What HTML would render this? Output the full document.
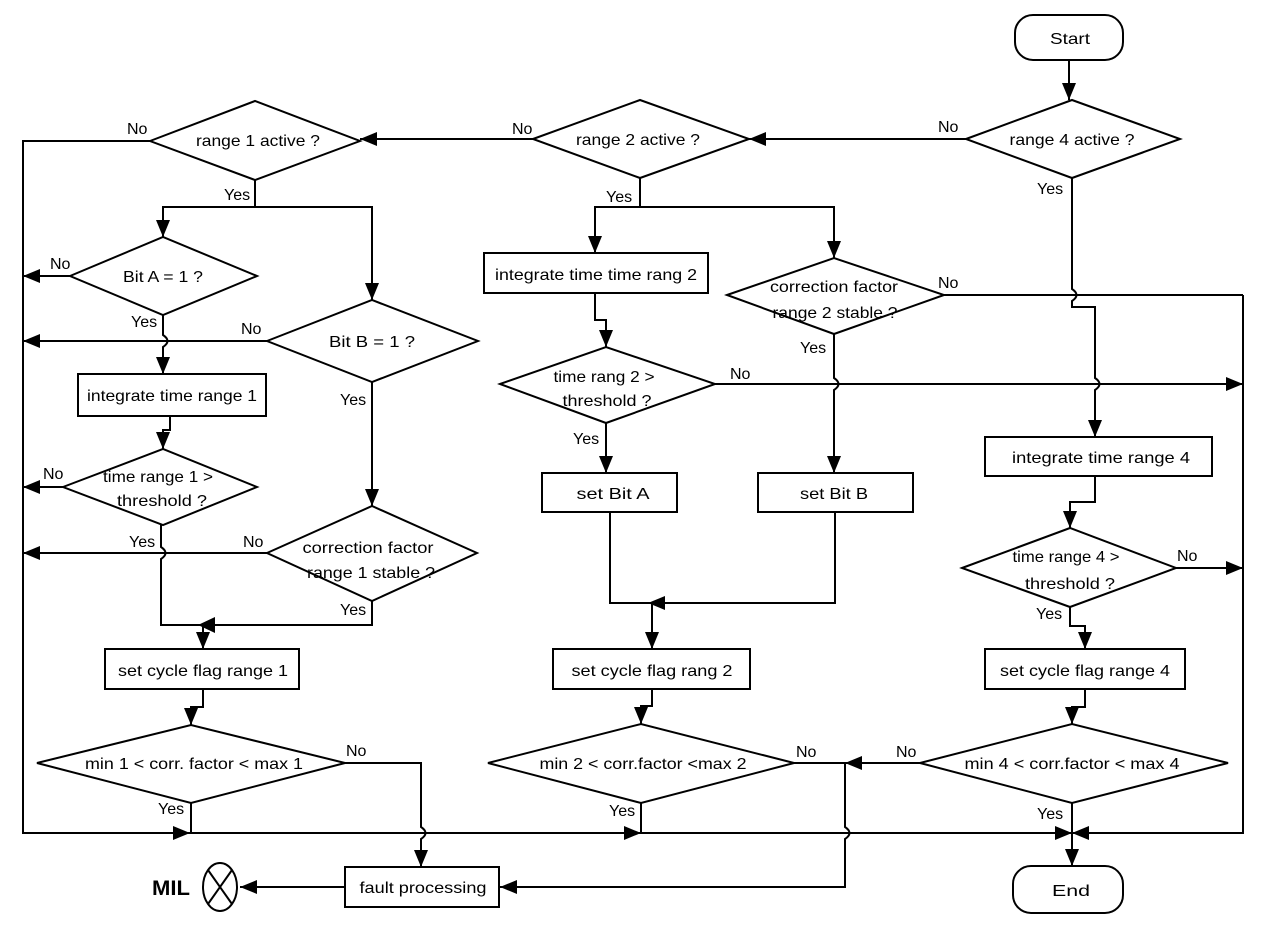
<!DOCTYPE html>
<html><head><meta charset="utf-8"><style>
html,body{margin:0;padding:0;background:#fff;}
svg{display:block;font-family:"Liberation Sans",Arial,sans-serif;}
.l{fill:none;stroke:#000;stroke-width:2;}
.s{fill:#fff;stroke:#000;stroke-width:2;}
.t{font-size:16px;fill:#000;text-anchor:middle;}
.y{font-size:16px;fill:#000;}
</style></head><body>
<svg width="1280" height="940" viewBox="0 0 1280 940" xmlns="http://www.w3.org/2000/svg">
<defs>
<marker id="a" markerUnits="userSpaceOnUse" markerWidth="18" markerHeight="14" refX="17" refY="7" orient="auto">
<path d="M0,0 L17,7 L0,14 z" fill="#000"/></marker>
</defs>
<rect width="1280" height="940" fill="#fff"/>

<!-- connectors -->
<g class="l">
<path d="M1069,60 V100" marker-end="url(#a)"/>
<path d="M966,139 H749" marker-end="url(#a)"/>
<path d="M533,139 H360" marker-end="url(#a)"/>
<path d="M150,141 H23 V833 H190" marker-end="url(#a)"/>
<path d="M190,833 H641" marker-end="url(#a)"/>
<path d="M641,833 H1072" marker-end="url(#a)"/>
<path d="M1243,295 V833 H1072" marker-end="url(#a)"/>
<path d="M191,803 V833"/>
<path d="M641,803 V833"/>
<path d="M1072,803 V866" marker-end="url(#a)"/>
<path d="M255,180 V207"/>
<path d="M255,207 H163 V237" marker-end="url(#a)"/>
<path d="M255,207 H372 V300" marker-end="url(#a)"/>
<path d="M70,276 H23" marker-end="url(#a)"/>
<path d="M267,341 H23" marker-end="url(#a)"/>
<path d="M63,487 H23" marker-end="url(#a)"/>
<path d="M267,553 H23" marker-end="url(#a)"/>
<path d="M163,315 V335 Q172,341 163,347 V374" marker-end="url(#a)"/>
<path d="M170,416 V430 H163 V449" marker-end="url(#a)"/>
<path d="M161,525 V547 Q170,553 161,559 V625 H372 V601"/>
<path d="M203,625 V649" marker-end="url(#a)"/>
<path d="M372,382 V506" marker-end="url(#a)"/>
<path d="M203,689 V707 H191 V725" marker-end="url(#a)"/>
<path d="M345,763 H421 V827 Q430,833 421,839 V867" marker-end="url(#a)"/>
<path d="M345,887 H240" marker-end="url(#a)"/>
<path d="M640,178 V207"/>
<path d="M640,207 H595 V253" marker-end="url(#a)"/>
<path d="M640,207 H834 V258" marker-end="url(#a)"/>
<path d="M944,295 H1243"/>
<path d="M1072,178 V289 Q1081,295 1072,301 V307 H1095 V378 Q1104,384 1095,390 V437" marker-end="url(#a)"/>
<path d="M715,384 H1243" marker-end="url(#a)"/>
<path d="M834,334 V378 Q843,384 834,390 V473" marker-end="url(#a)"/>
<path d="M595,293 V320 H606 V347" marker-end="url(#a)"/>
<path d="M606,423 V473" marker-end="url(#a)"/>
<path d="M610,512 V603 H835 V512"/>
<path d="M652,603 V649" marker-end="url(#a)"/>
<path d="M652,689 V706 H641 V724" marker-end="url(#a)"/>
<path d="M794,763 H845"/>
<path d="M920,763 H845" marker-end="url(#a)"/>
<path d="M845,763 V827 Q854,833 845,839 V887 H500" marker-end="url(#a)"/>
<path d="M1095,476 V502 H1070 V528" marker-end="url(#a)"/>
<path d="M1176,568 H1243" marker-end="url(#a)"/>
<path d="M1070,607 V626 H1085 V649" marker-end="url(#a)"/>
<path d="M1085,689 V707 H1072 V724" marker-end="url(#a)"/>
</g>
<path d="M198,625 L215,617 L215,633 z" fill="#000"/>
<path d="M648,603 L665,596 L665,610 z" fill="#000"/>

<!-- shapes -->
<g class="s">
<rect x="1015" y="15" width="108" height="45" rx="18"/>
<rect x="1013" y="866" width="110" height="47" rx="18"/>
<polygon points="966,139 1072,100 1180,139 1072,178"/>
<polygon points="533,139 640,100 749,139 640,178"/>
<polygon points="150,141 255,101 360,141 255,180"/>
<polygon points="70,276 163,237 257,276 163,315"/>
<polygon points="267,341 372,300 478,341 372,382"/>
<rect x="78" y="374" width="188" height="42"/>
<polygon points="63,487 163,449 257,487 163,525"/>
<polygon points="267,553 372,506 477,553 372,601"/>
<rect x="105" y="649" width="194" height="40"/>
<polygon points="37,763 191,725 345,763 191,803"/>
<rect x="345" y="867" width="154" height="40"/>
<rect x="484" y="253" width="224" height="40"/>
<polygon points="727,295 834,258 944,295 834,334"/>
<polygon points="500,384 606,347 715,384 606,423"/>
<rect x="542" y="473" width="135" height="39"/>
<rect x="758" y="473" width="155" height="39"/>
<rect x="553" y="649" width="197" height="40"/>
<polygon points="488,763 641,724 794,763 641,803"/>
<rect x="985" y="437" width="227" height="39"/>
<polygon points="962,568 1070,528 1176,568 1070,607"/>
<rect x="985" y="649" width="200" height="40"/>
<polygon points="920,763 1072,724 1228,763 1072,803"/>
<ellipse cx="220" cy="887" rx="17" ry="24"/>
</g>
<path d="M208,870 L232,904 M232,870 L208,904" stroke="#000" stroke-width="2"/>

<!-- node texts -->
<g class="t">
<text x="1070" y="44" textLength="40" lengthAdjust="spacingAndGlyphs">Start</text>
<text x="1071" y="896" textLength="38" lengthAdjust="spacingAndGlyphs">End</text>
<text x="1072" y="145" textLength="125" lengthAdjust="spacingAndGlyphs">range 4 active ?</text>
<text x="638" y="145" textLength="124" lengthAdjust="spacingAndGlyphs">range 2 active ?</text>
<text x="258" y="146" textLength="124" lengthAdjust="spacingAndGlyphs">range 1 active ?</text>
<text x="163" y="282" textLength="80" lengthAdjust="spacingAndGlyphs">Bit A = 1 ?</text>
<text x="372" y="347" textLength="86" lengthAdjust="spacingAndGlyphs">Bit B =  1 ?</text>
<text x="172" y="401" textLength="170" lengthAdjust="spacingAndGlyphs">integrate time range 1</text>
<text x="158" y="482" textLength="110" lengthAdjust="spacingAndGlyphs">time range 1 &gt;</text>
<text x="162" y="506" textLength="90" lengthAdjust="spacingAndGlyphs">threshold ?</text>
<text x="368" y="553" textLength="131" lengthAdjust="spacingAndGlyphs">correction factor</text>
<text x="371" y="578" textLength="128" lengthAdjust="spacingAndGlyphs">range 1 stable ?</text>
<text x="203" y="676" textLength="170" lengthAdjust="spacingAndGlyphs">set cycle flag  range 1</text>
<text x="194" y="769" textLength="218" lengthAdjust="spacingAndGlyphs">min 1 &lt; corr. factor &lt; max 1</text>
<text x="423" y="893" textLength="127" lengthAdjust="spacingAndGlyphs">fault processing</text>
<text x="596" y="280" textLength="202" lengthAdjust="spacingAndGlyphs">integrate time time rang 2</text>
<text x="834" y="292" textLength="128" lengthAdjust="spacingAndGlyphs">correction factor</text>
<text x="835" y="318" textLength="125" lengthAdjust="spacingAndGlyphs">range 2 stable ?</text>
<text x="604" y="382" textLength="101" lengthAdjust="spacingAndGlyphs">time rang 2 &gt;</text>
<text x="607" y="406" textLength="89" lengthAdjust="spacingAndGlyphs">threshold ?</text>
<text x="613" y="499" textLength="73" lengthAdjust="spacingAndGlyphs">set Bit A</text>
<text x="834" y="499" textLength="68" lengthAdjust="spacingAndGlyphs">set Bit B</text>
<text x="1101" y="463" textLength="178" lengthAdjust="spacingAndGlyphs">integrate time range 4</text>
<text x="1066" y="562" textLength="107" lengthAdjust="spacingAndGlyphs">time range 4 &gt;</text>
<text x="1070" y="589" textLength="90" lengthAdjust="spacingAndGlyphs">threshold ?</text>
<text x="652" y="676" textLength="161" lengthAdjust="spacingAndGlyphs">set cycle flag rang 2</text>
<text x="1085" y="676" textLength="170" lengthAdjust="spacingAndGlyphs">set cycle flag range 4</text>
<text x="643" y="769" textLength="207" lengthAdjust="spacingAndGlyphs">min 2 &lt; corr.factor &lt;max 2</text>
<text x="1072" y="769" textLength="215" lengthAdjust="spacingAndGlyphs">min 4 &lt; corr.factor &lt; max 4</text>
</g>

<!-- Yes/No labels -->
<g class="y">
<text x="127" y="134">No</text>
<text x="512" y="134">No</text>
<text x="938" y="132">No</text>
<text x="224" y="200">Yes</text>
<text x="606" y="202">Yes</text>
<text x="1037" y="194">Yes</text>
<text x="50" y="269">No</text>
<text x="131" y="327">Yes</text>
<text x="241" y="334">No</text>
<text x="340" y="405">Yes</text>
<text x="43" y="479">No</text>
<text x="129" y="547">Yes</text>
<text x="243" y="547">No</text>
<text x="340" y="615">Yes</text>
<text x="346" y="756">No</text>
<text x="158" y="814">Yes</text>
<text x="938" y="288">No</text>
<text x="800" y="353">Yes</text>
<text x="730" y="379">No</text>
<text x="573" y="444">Yes</text>
<text x="1177" y="561">No</text>
<text x="1036" y="619">Yes</text>
<text x="796" y="757">No</text>
<text x="609" y="816">Yes</text>
<text x="896" y="757">No</text>
<text x="1037" y="819">Yes</text>
</g>
<text x="152" y="895" font-size="21" font-weight="bold" textLength="38" lengthAdjust="spacingAndGlyphs">MIL</text>
</svg>
</body></html>
